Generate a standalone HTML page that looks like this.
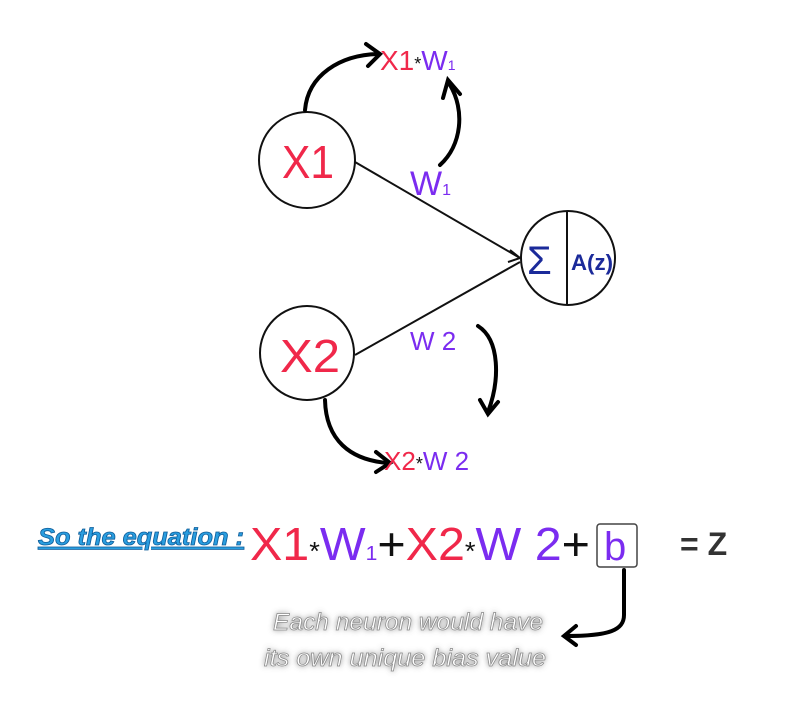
<!DOCTYPE html>
<html><head><meta charset="utf-8"><style>
html,body{margin:0;padding:0;background:#fff;width:804px;height:717px;overflow:hidden}
svg{display:block}
text{font-family:"Liberation Sans",sans-serif}
</style></head><body>
<svg width="804" height="717" viewBox="0 0 804 717">
<defs>
<filter id="glow" x="-20%" y="-50%" width="140%" height="200%"><feGaussianBlur stdDeviation="3"/></filter>
</defs>
<g fill="none" stroke="#111" stroke-width="2">
<circle cx="307" cy="160" r="48"/>
<circle cx="307" cy="353" r="47"/>
<circle cx="568" cy="258" r="47"/>
<line x1="567" y1="211" x2="567" y2="305"/>
<line x1="355" y1="162" x2="520" y2="258"/>
<line x1="355" y1="355" x2="520" y2="262"/>
<polyline points="510,250 520,258 508,262"/>
</g>
<g fill="none" stroke="#000" stroke-width="4" stroke-linecap="round">
<path d="M305,110 C308,75 340,55 378,54"/>
<polyline points="366,44 380,54 368,66"/>
<path d="M440,165 C462,145 465,110 450,85"/>
<polyline points="443,98 448,80 460,94"/>
<path d="M478,326 C500,340 500,380 488,412"/>
<polyline points="480,400 488,414 498,402"/>
<path d="M325,400 C326,440 350,460 388,463"/>
<polyline points="376,452 390,463 376,472"/>
<path d="M624,570 L624,615 C624,630 610,636 566,636"/>
<polyline points="576,626 564,636 576,645"/>
</g>
<text x="282" y="178" font-size="46" fill="#f0284a" textLength="52" lengthAdjust="spacingAndGlyphs">X1</text>
<text x="280" y="372" font-size="46" fill="#f0284a" textLength="60" lengthAdjust="spacingAndGlyphs">X2</text>
<text x="527" y="274" font-size="40" fill="#1b2a9a">Σ</text>
<text x="571" y="270" font-size="22" fill="#1b2a9a" font-weight="bold" textLength="42" lengthAdjust="spacingAndGlyphs">A(z)</text>
<text x="410" y="195" font-size="34" fill="#7b2cf0">W<tspan font-size="16">1</tspan></text>
<text x="410" y="350" font-size="26" fill="#7b2cf0">W 2</text>
<text x="380" y="70" font-size="28"><tspan fill="#f0284a">X1</tspan><tspan fill="#111" font-size="18">*</tspan><tspan fill="#7b2cf0">W<tspan font-size="14">1</tspan></tspan></text>
<text x="384" y="470" font-size="26"><tspan fill="#f0284a">X2</tspan><tspan fill="#111" font-size="18">*</tspan><tspan fill="#7b2cf0">W 2</tspan></text>
<text x="38" y="545" font-size="24" font-style="italic" font-weight="bold" fill="#2a9ee0" stroke="#0d5c99" stroke-width="0.8" text-decoration="underline" textLength="206" lengthAdjust="spacingAndGlyphs">So the equation :</text>
<text x="250" y="560" font-size="46" textLength="340" lengthAdjust="spacingAndGlyphs"><tspan fill="#f0284a">X1</tspan><tspan fill="#111" font-size="26">*</tspan><tspan fill="#7b2cf0">W<tspan font-size="20">1</tspan></tspan><tspan fill="#111">+</tspan><tspan fill="#f0284a">X2</tspan><tspan fill="#111" font-size="26">*</tspan><tspan fill="#7b2cf0">W 2</tspan><tspan fill="#111">+</tspan></text>
<rect x="597" y="524" width="40" height="43" rx="3" fill="none" stroke="#444" stroke-width="1.5"/>
<text x="604" y="560" font-size="40" fill="#7b2cf0">b</text>
<text x="680" y="555" font-size="32" font-weight="bold" fill="#333">= Z</text>
<g>
<g filter="url(#glow)" fill="#666" font-size="24" font-style="italic" text-anchor="middle">
<text x="408" y="630" textLength="270" lengthAdjust="spacingAndGlyphs">Each neuron would have</text>
<text x="405" y="666" textLength="282" lengthAdjust="spacingAndGlyphs">its own unique bias value</text>
</g>
<g fill="#fff" stroke="#888" stroke-width="0.7" font-size="24" font-style="italic" text-anchor="middle">
<text x="408" y="630" textLength="270" lengthAdjust="spacingAndGlyphs">Each neuron would have</text>
<text x="405" y="666" textLength="282" lengthAdjust="spacingAndGlyphs">its own unique bias value</text>
</g>
</g>
</svg>
</body></html>
